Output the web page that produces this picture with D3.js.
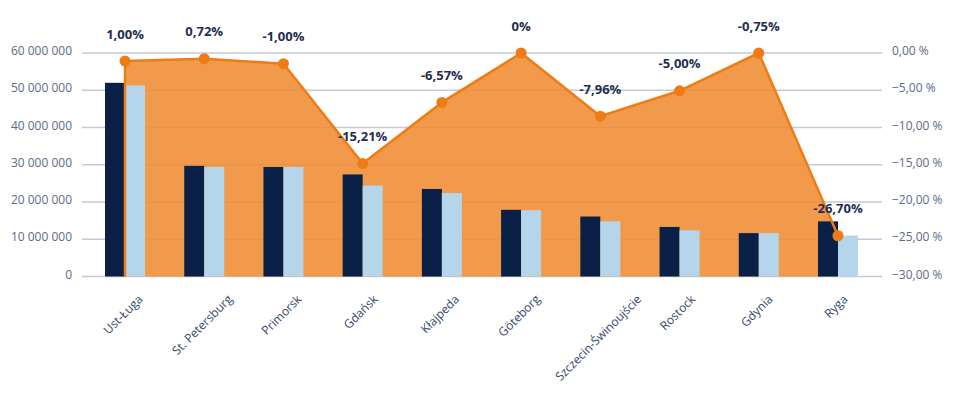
<!DOCTYPE html>
<html>
  <head>
    <meta charset="utf-8">
    <title></title>
    <script src="https://d3js.org/d3.v7.min.js"></script>
    <style type="text/css">
      body {
        margin: 0;
        background: #ffffff;
        font-family: 'Open Sans';
      }
      .axis-label {
        fill: #5b6a86;
        font-size: 12px;
      }
      .cat-label {
        fill: #34456a;
        font-size: 12px;
      }
      .value-label {
        fill: #1f2d4e;
        font-size: 13px;
        font-weight: bold;
      }
    </style>
  </head>

  <body>
    <div class="chart"></div>
    <script type="text/javascript">
      // ports
      var ports = ['Ust-Ługa', 'St. Petersburg', 'Primorsk', 'Gdańsk', 'Kłajpeda', 'Göteborg',
                   'Szczecin-Świnoujście', 'Rostock', 'Gdynia', 'Ryga'];
      // cargo, tonnes (dark = previous year, light = current year)
      var cargoDark  = [52000000, 29700000, 29400000, 27400000, 23500000, 17900000, 16100000, 13300000, 11650000, 14800000];
      var cargoLight = [51300000, 29400000, 29400000, 24400000, 22400000, 17800000, 14800000, 12400000, 11650000, 11000000];
      // change, % (as plotted) and the printed labels
      var change = [-1.08, -0.77, -1.44, -14.84, -6.63, 0, -8.48, -5.07, 0, -24.53];
      var changeLabels = ['1,00%', '0,72%', '-1,00%', '-15,21%', '-6,57%', '0%', '-7,96%', '-5,00%', '-0,75%', '-26,70%'];
      // tick values
      var leftTicks = [0, 10000000, 20000000, 30000000, 40000000, 50000000, 60000000];
      var rightTicks = [0, -5, -10, -15, -20, -25, -30];

      var width = 955;
      var height = 396;

      var svg = d3.select('.chart').append('svg')
                  .attr('width', width)
                  .attr('height', height);

      var x = d3.scaleBand().domain(ports).range([85.4, 877.6]);
      var yLeft = d3.scaleLinear().domain([0, 60000000]).range([276.5, 53]);
      var yRight = d3.scaleLinear().domain([-30, 0]).range([276.5, 53]);

      var locale = d3.formatLocale({decimal: ',', thousands: ' ', grouping: [3], currency: ['', '']});
      var fmtLeft = locale.format(',');
      var fmtRight = function(d){ return locale.format('.2f')(d) + ' %'; };

      function cx (d) {
        return x(d) + x.bandwidth() / 2;
      }

      var pts = ports.map(function(p, i){ return {x: cx(p), y: yRight(change[i])}; });

      // area under the change line
      var area = d3.area()
                   .x(function(d){ return d.x; })
                   .y0(yRight(-30))
                   .y1(function(d){ return d.y; });

      // gridlines
      svg.selectAll('line.grid')
        .data(leftTicks)
        .enter()
        .append('line')
          .attr('class', 'grid')
          .attr('x1', 82)
          .attr('x2', 882)
          .attr('y1', function(d){ return yLeft(d); })
          .attr('y2', function(d){ return yLeft(d); })
          .attr('stroke', '#c4cad8')
          .attr('stroke-width', 1.5);

      svg.append('path')
        .datum(pts)
        .attr('d', area)
        .attr('fill', '#f08c33')
        .attr('fill-opacity', 0.88);

      // bars
      var bw = 20;
      svg.selectAll('rect.dark')
        .data(cargoDark)
        .enter()
        .append('rect')
          .attr('class', 'dark')
          .attr('x', function(d, i){ return cx(ports[i]) - bw; })
          .attr('y', function(d){ return yLeft(d); })
          .attr('width', bw)
          .attr('height', function(d){ return yLeft(0) - yLeft(d); })
          .attr('fill', '#0b2046');

      svg.selectAll('rect.light')
        .data(cargoLight)
        .enter()
        .append('rect')
          .attr('class', 'light')
          .attr('x', function(d, i){ return cx(ports[i]); })
          .attr('y', function(d){ return yLeft(d); })
          .attr('width', bw)
          .attr('height', function(d){ return yLeft(0) - yLeft(d); })
          .attr('fill', '#b5d6ea');

      // line with a drop at the start
      var line = d3.line()
                   .x(function(d){ return d.x; })
                   .y(function(d){ return d.y; });

      svg.append('path')
        .datum([{x: pts[0].x, y: yRight(-30)}].concat(pts))
        .attr('d', line)
        .attr('fill', 'none')
        .attr('stroke', '#ee7b14')
        .attr('stroke-width', 2.5)
        .attr('stroke-linejoin', 'round');

      svg.selectAll('circle')
        .data(pts)
        .enter()
        .append('circle')
          .attr('cx', function(d){ return d.x; })
          .attr('cy', function(d){ return d.y; })
          .attr('r', 5.5)
          .attr('fill', '#ee7b14');

      // value labels
      svg.selectAll('text.value-label')
        .data(pts)
        .enter()
        .append('text')
          .attr('class', 'value-label')
          .attr('x', function(d){ return d.x; })
          .attr('y', function(d){ return d.y - 27; })
          .attr('dy', '0.35em')
          .attr('text-anchor', 'middle')
          .text(function(d, i){ return changeLabels[i]; });

      // left axis labels
      svg.selectAll('text.left')
        .data(leftTicks)
        .enter()
        .append('text')
          .attr('class', 'axis-label left')
          .attr('x', 72)
          .attr('y', function(d){ return yLeft(d) - 2; })
          .attr('dy', '0.35em')
          .attr('text-anchor', 'end')
          .text(fmtLeft);

      // right axis labels
      svg.selectAll('text.right')
        .data(rightTicks)
        .enter()
        .append('text')
          .attr('class', 'axis-label right')
          .attr('x', 892)
          .attr('y', function(d){ return yRight(d) - 2; })
          .attr('dy', '0.35em')
          .text(fmtRight);

      // category labels, rotated, top ends aligned
      svg.selectAll('text.cat-label')
        .data(ports)
        .enter()
        .append('text')
          .attr('class', 'cat-label')
          .attr('text-anchor', 'middle')
          .attr('dy', '0.35em')
          .text(function(d){ return d; })
          .attr('transform', function(d){
            var len = this.getComputedTextLength();
            return 'translate(' + (cx(d) - 2) + ',' + (297 + len / 2 * Math.SQRT1_2) + ') rotate(-45)';
          });
    </script>
  </body>
</html>
